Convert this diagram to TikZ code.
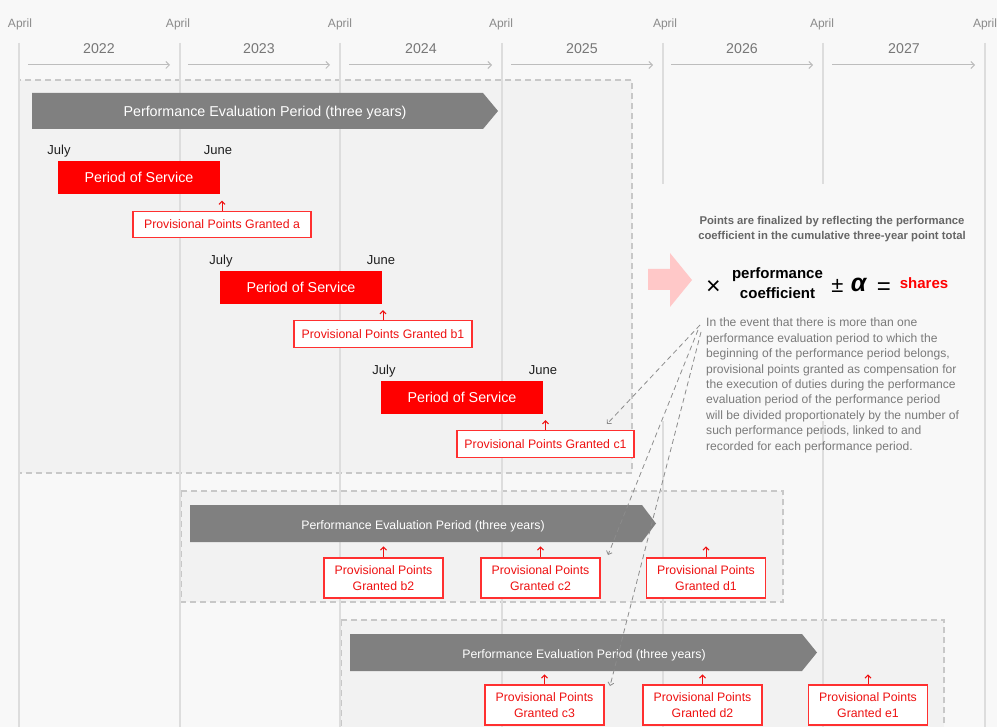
\documentclass[tikz,border=0pt]{standalone}
\usepackage{fontspec}
\setmainfont{Liberation Sans}
\usetikzlibrary{arrows.meta}

\definecolor{pagebg}{HTML}{F8F8F8}
\definecolor{boxfill}{HTML}{F2F2F2}
\definecolor{dashgray}{HTML}{C8C8C8}
\definecolor{gridgray}{HTML}{DDDDDD}
\definecolor{monthgray}{HTML}{8A8A8A}
\definecolor{yeargray}{HTML}{777777}
\definecolor{yeararrow}{HTML}{BDBDBD}
\definecolor{periodgray}{HTML}{808080}
\definecolor{svcred}{HTML}{FF0000}
\definecolor{ptred}{HTML}{EE1111}
\definecolor{ptborder}{HTML}{FF3030}
\definecolor{pinkarrow}{HTML}{FFC8C8}
\definecolor{headgray}{HTML}{666666}
\definecolor{notegray}{HTML}{7A7A7A}
\definecolor{leadergray}{HTML}{8C8C8C}

\tikzset{
  evalbox/.style={draw=dashgray, fill=boxfill, line width=1.4pt, dash pattern=on 6pt off 4pt},
  gridline/.style={draw=gridgray, line width=1.6pt},
  monthlbl/.style={font=\fontsize{12}{14}\selectfont, text=monthgray, inner sep=0pt, anchor=base},
  yearlbl/.style={font=\fontsize{14.2}{16}\selectfont, text=yeargray, inner sep=0pt, anchor=base},
  yeararr/.style={draw=yeararrow, line width=1pt, -{Straight Barb[length=3.5pt,width=7pt]}},
  periodbar/.style={fill=periodgray},
  periodtxt/.style={text=white, inner sep=0pt, text height=10pt, text depth=0pt},
  edgelbl/.style={font=\fontsize{13}{15}\selectfont, text=black!88, inner sep=0pt, anchor=base},
  svcbox/.style={fill=svcred, text=white, font=\fontsize{14.3}{16}\selectfont,
    minimum width=162pt, minimum height=33pt, inner sep=0pt, text height=10.2pt, text depth=0pt},
  ptbox/.style={draw=ptborder, line width=1.1pt, fill=white, text=ptred,
    font=\fontsize{12.3}{16}\selectfont, inner sep=0pt, minimum height=26.5pt,
    text height=8.8pt, text depth=0pt},
  ptbox2/.style={draw=ptborder, line width=1.1pt, fill=white, text=ptred,
    font=\fontsize{12.3}{16}\selectfont, inner sep=0pt, minimum height=40pt,
    minimum width=119pt, align=center},
  ptarrow/.style={draw=ptred, line width=1pt, -{Straight Barb[length=3pt,width=6pt]}},
  leader/.style={draw=leadergray, line width=0.8pt, dash pattern=on 5pt off 3.5pt,
    -{Straight Barb[length=3pt,width=6pt]}},
  opsym/.style={inner sep=0pt, anchor=base},
}

\begin{document}
\begin{tikzpicture}[x=1pt,y=-1pt]
\useasboundingbox (0,0) rectangle (997,727);
\clip (0,0) rectangle (997,727);
\fill[pagebg] (0,0) rectangle (997,727);

% dashed frames of the three evaluation periods
\draw[evalbox] (19,80) rectangle (632,473);
\draw[evalbox] (181,491) rectangle (783,602);
\draw[evalbox] (341,620) rectangle (944,745);

% fiscal year boundaries
\foreach \x in {19,180,340,502,663,823,985}
  \draw[gridline] (\x,43) -- (\x,727);
% clear area behind the explanatory text
\fill[pagebg] (645,184) rectangle (975,421);

% April markers
\foreach \x/\n in {20/a,178/b,340/c,501/d,665/e,822/f,985/g}
  \node[monthlbl] (apr\n) at (\x,27.8) {April};

% fiscal years with their arrows
\foreach \x/\y in {99/2022,259/2023,421/2024,582/2025,742/2026,904/2027}
  \node[yearlbl] (fy\y) at (\x,53.7) {\y};
\foreach \a/\b in {28/170,188/330,349/492,511/653,671/813,832/975}
  \draw[yeararr] (\a,65) -- (\b,65);

% first performance evaluation period
\fill[periodbar] (32,93) -- (483,93) -- (498,111) -- (483,129) -- (32,129) -- cycle;
\node[periodtxt, font=\fontsize{14.3}{16}\selectfont] (pepA) at (265,112)
  {Performance Evaluation Period (three years)};

% periods of service
\node[edgelbl] (jul1) at (59,154.5) {July};
\node[edgelbl] (jun1) at (218,154.5) {June};
\node[svcbox] (svc1) at (139,177.5) {Period of Service};
\node[ptbox, minimum width=178pt] (pa) at (222,224.5) {Provisional Points Granted a};
\draw[ptarrow] (pa.north) -- ++(0,-10);

\node[edgelbl] (jul2) at (221,264.5) {July};
\node[edgelbl] (jun2) at (381,264.5) {June};
\node[svcbox] (svc2) at (301,287.5) {Period of Service};
\node[ptbox, minimum width=178pt] (pb1) at (383,334) {Provisional Points Granted b1};
\draw[ptarrow] (pb1.north) -- ++(0,-10);

\node[edgelbl] (jul3) at (384,374.5) {July};
\node[edgelbl] (jun3) at (543,374.5) {June};
\node[svcbox] (svc3) at (462,397.5) {Period of Service};
\node[ptbox, minimum width=177pt] (pc1) at (545.5,444) {Provisional Points Granted c1};
\draw[ptarrow] (pc1.north) -- ++(0,-10);

% second performance evaluation period
\fill[periodbar] (190,505) -- (642,505) -- (656,523.5) -- (642,542) -- (190,542) -- cycle;
\node[periodtxt, font=\fontsize{12.3}{14}\selectfont, text height=8.8pt] (pepB) at (423,525)
  {Performance Evaluation Period (three years)};
\node[ptbox2] (pb2) at (383.5,578) {Provisional Points\\Granted b2};
\node[ptbox2] (pc2) at (540.5,578) {Provisional Points\\Granted c2};
\node[ptbox2] (pd1) at (706,578) {Provisional Points\\Granted d1};
\foreach \n in {pb2,pc2,pd1}
  \draw[ptarrow] (\n.north) -- ++(0,-11);

% third performance evaluation period
\fill[periodbar] (350,634) -- (802,634) -- (817,652.5) -- (802,671) -- (350,671) -- cycle;
\node[periodtxt, font=\fontsize{12.3}{14}\selectfont, text height=8.8pt] (pepC) at (584,654)
  {Performance Evaluation Period (three years)};
\node[ptbox2] (pc3) at (544.5,705) {Provisional Points\\Granted c3};
\node[ptbox2] (pd2) at (702.5,705) {Provisional Points\\Granted d2};
\node[ptbox2] (pe1) at (868,705) {Provisional Points\\Granted e1};
\foreach \n in {pc3,pd2,pe1}
  \draw[ptarrow] (\n.north) -- ++(0,-10);

% finalisation of the points
\node[font=\bfseries\fontsize{11.3}{15}\selectfont, text=headgray, align=center,
  inner sep=0pt, anchor=north] (head) at (832,216)
  {Points are finalized by reflecting the performance\\
   coefficient in the cumulative three-year point total};
\fill[pinkarrow] (648,269) -- (670,269) -- (670,253) -- (692,280) -- (670,307)
  -- (670,290) -- (648,290) -- cycle;
\node[opsym, font=\fontsize{25}{26}\selectfont] (times) at (713.5,295) {×};
\node[font=\bfseries\fontsize{15}{20}\selectfont, align=center, inner sep=0pt] (coef) at (777.5,283.5)
  {performance\\coefficient};
\node[opsym, font=\fontsize{22}{24}\selectfont] (pm) at (837.5,293) {±};
\node[opsym, font=\bfseries\itshape\fontsize{25}{26}\selectfont] (alpha) at (858.5,291.5) {α};
\node[opsym, font=\fontsize{24}{26}\selectfont] (eq) at (884,294.5) {=};
\node[font=\bfseries\fontsize{15}{18}\selectfont, text=svcred, inner sep=0pt] (shares) at (924,283.5) {shares};

% note on overlapping evaluation periods
\node[font=\fontsize{12.1}{15.4}\selectfont, text=notegray, align=left, inner sep=0pt,
  anchor=north west] (note) at (706,318)
  {In the event that there is more than one\\
   performance evaluation period to which the\\
   beginning of the performance period belongs,\\
   provisional points granted as compensation for\\
   the execution of duties during the performance\\
   evaluation period of the performance period\\
   will be divided proportionately by the number of\\
   such performance periods, linked to and\\
   recorded for each performance period.};

% leaders from the note to the divided points
\coordinate (ln1) at (700,325);
\coordinate (ln2) at (698,330);
\coordinate (ln3) at (701,332);
\coordinate (tc1) at (607,424);
\coordinate (tc2) at (608,555);
\coordinate (tc3) at (610,686);
\draw[leader] (ln1) -- (tc1);
\draw[leader] (ln2) -- (tc2);
\draw[leader] (ln3) -- (tc3);
\end{tikzpicture}
\end{document}
